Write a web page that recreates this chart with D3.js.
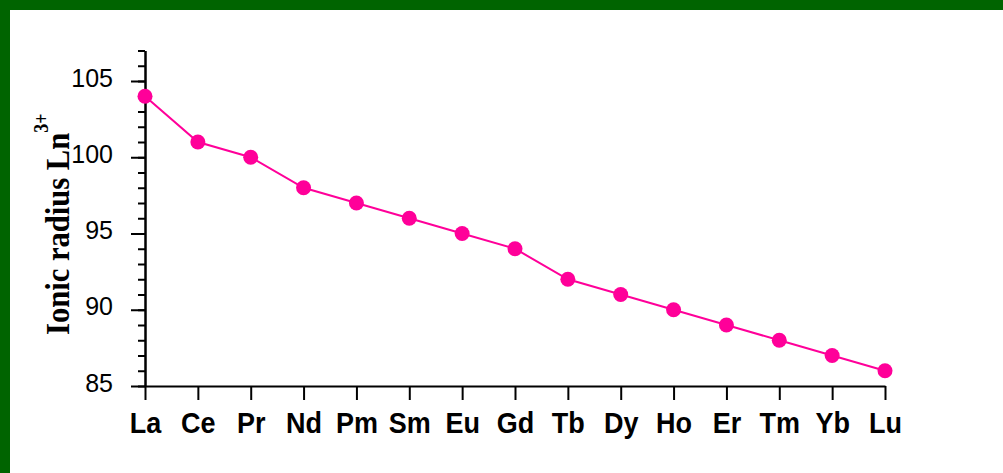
<!DOCTYPE html>
<html>
<head>
<meta charset="utf-8">
<script src="https://cdn.jsdelivr.net/npm/d3@7"></script>
<style>
html,body{margin:0;padding:0;background:#fff;}
svg{display:block;}
</style>
</head>
<body>
<svg id="chart" width="1003" height="473"></svg>
<script>
const elements = ["La","Ce","Pr","Nd","Pm","Sm","Eu","Gd","Tb","Dy","Ho","Er","Tm","Yb","Lu"];
const radii = [104,101,100,98,97,96,95,94,92,91,90,89,88,87,86];
const majorTicks = [85,90,95,100,105];
const minorTicks = d3.range(85,108,1);

const svg = d3.select("#chart");
svg.append("rect").attr("x",0).attr("y",0).attr("width",1003).attr("height",10).attr("fill","#006400");
svg.append("rect").attr("x",0).attr("y",0).attr("width",10).attr("height",473).attr("fill","#006400");

const x = d3.scalePoint().domain(elements).range([145,885]);
const y = d3.scaleLinear().domain([85,107]).range([386,50.5]);

// minor ticks
svg.append("g").attr("transform","translate(145,0)")
  .call(d3.axisLeft(y).tickValues(minorTicks).tickSize(7).tickSizeOuter(0).tickFormat(""));
// major ticks
const gY = svg.append("g").attr("transform","translate(145,0)")
  .call(d3.axisLeft(y).tickValues(majorTicks).tickSize(14).tickSizeOuter(0).tickPadding(18).tickFormat(d3.format("d")));
gY.selectAll("text").attr("dy","0.2em")
  .style("font-family","'Liberation Sans', Arial, sans-serif").style("font-size","25px").attr("fill","#000");

const gX = svg.append("g").attr("transform","translate(0,386)")
  .call(d3.axisBottom(x).tickSize(14).tickSizeOuter(0).tickPadding(12));
gX.selectAll("text")
  .attr("transform","scale(0.9,1)")
  .style("font-family","'Liberation Sans', Arial, sans-serif").style("font-size","30px").style("font-weight","bold").attr("fill","#000");

svg.selectAll(".domain, .tick line").attr("stroke","#000").attr("stroke-width",2);

// line
const line = d3.line().x((d,i)=>x(elements[i])).y(d=>y(d));
svg.append("path").datum(radii).attr("d",line).attr("fill","none").attr("stroke","#FF0099").attr("stroke-width",2);
svg.selectAll("circle.pt").data(radii).enter().append("circle").attr("class","pt")
  .attr("cx",(d,i)=>x(elements[i])).attr("cy",d=>y(d)).attr("r",7.5).attr("fill","#FF0099");

// y-axis title
const title = svg.append("text").attr("transform","translate(69,335) rotate(-90) scale(0.9,1)")
  .attr("text-anchor","start")
  .style("font-family","'Liberation Serif', 'Times New Roman', serif").style("font-weight","bold").style("font-size","34px").attr("fill","#000");
title.append("tspan").text("Ionic radius Ln");
title.append("tspan").attr("dy",-21).style("font-size","20px").text("3+");
</script>
</body>
</html>
